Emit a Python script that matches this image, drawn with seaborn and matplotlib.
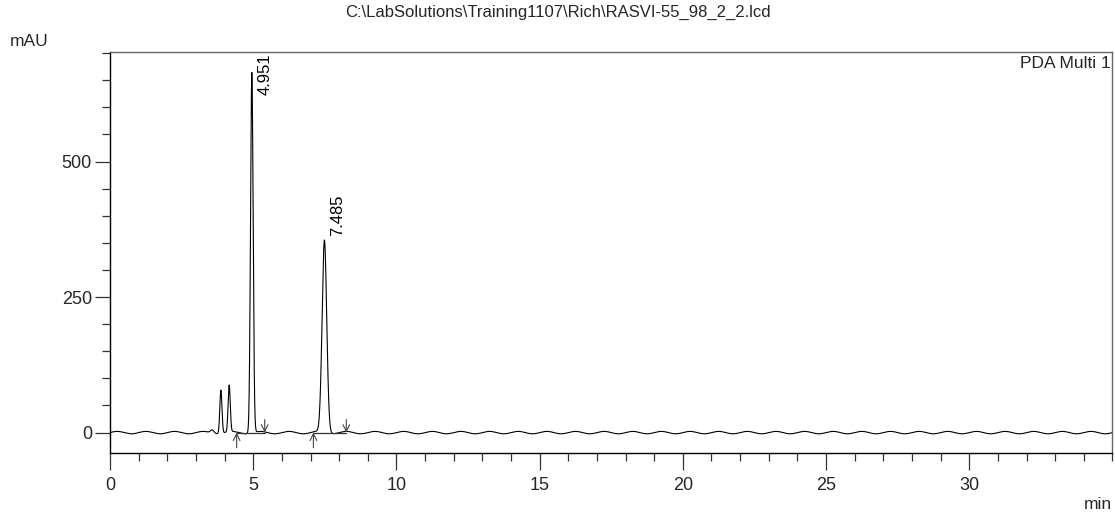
import numpy as np
import pandas as pd
import seaborn as sns
import matplotlib.pyplot as plt
from matplotlib.ticker import MultipleLocator

# Peak table: retention time (min), height (mAU), width sigma (min)
peak_rt = [3.57, 3.87, 4.16, 4.951, 7.485]
peak_height = [6, 80, 86, 665, 355]
peak_sigma = [0.06, 0.037, 0.037, 0.045, 0.08]

# Only integrated peaks are labelled
labelled_rt = [4.951, 7.485]

# Integration start/end markers (min)
int_start = [4.42, 7.10]
int_end = [5.40, 8.25]

# Baseline ripple: period (min) and amplitude (mAU)
ripple_period = 1.0
ripple_amp = 2.2

title = r"C:\LabSolutions\Training1107\Rich\RASVI-55_98_2_2.lcd"
channel = "PDA Multi 1"

t = np.linspace(0, 35, 7001)
signal = ripple_amp * np.sin(2 * np.pi * t / ripple_period)
for rt, h, s in zip(peak_rt, peak_height, peak_sigma):
    signal = signal + h * np.exp(-0.5 * ((t - rt) / s) ** 2)
df = pd.DataFrame({"time": t, "mAU": signal})

sns.set_theme(style="white")
plt.rcParams["font.family"] = ["Liberation Sans", "DejaVu Sans"]

fig = plt.figure(figsize=(11.15, 5.15), dpi=100)
ax = fig.add_axes([0.0987, 0.12, 0.899, 0.779])
sns.lineplot(data=df, x="time", y="mAU", ax=ax, color="black", linewidth=0.8)

ax.set_ylim(-38, 702)
ax.xaxis.set_major_locator(MultipleLocator(5))
ax.xaxis.set_minor_locator(MultipleLocator(1))
ax.yaxis.set_major_locator(MultipleLocator(250))
ax.yaxis.set_minor_locator(MultipleLocator(50))
ax.set_xticks([0, 5, 10, 15, 20, 25, 30])
ax.set_xlim(0, 35)
ax.tick_params(axis="x", which="major", direction="out", length=12, width=0.9,
               labelsize=13, color="#333333", bottom=True, pad=5)
ax.tick_params(axis="y", which="major", direction="out", length=11, width=0.9,
               labelsize=13, color="#333333", left=True, pad=2)
ax.tick_params(axis="both", which="minor", direction="out", length=6, width=0.9,
               color="#333333", bottom=True, left=True)
ax.set_xlabel("")
ax.set_ylabel("")

for side in ["left", "bottom"]:
    ax.spines[side].set_color("black")
    ax.spines[side].set_linewidth(1.0)
for side in ["top", "right"]:
    ax.spines[side].set_color("#666666")
    ax.spines[side].set_linewidth(1.0)

# Baseline segments and integration markers
for a, b in zip(int_start, int_end):
    ax.plot([a, b], [0, 0], color="#333333", linewidth=0.9)
    ax.annotate("", xy=(a, 0), xytext=(a, -28),
                arrowprops=dict(arrowstyle="->", color="#444444", lw=0.8,
                                shrinkA=0, shrinkB=0))
    ax.annotate("", xy=(b, 0), xytext=(b, 24),
                arrowprops=dict(arrowstyle="->", color="#444444", lw=0.8,
                                shrinkA=0, shrinkB=0))

# Retention time labels
y_top = ax.get_ylim()[1]
for rt in labelled_rt:
    h = peak_height[peak_rt.index(rt)]
    y = min(h + 8, y_top - 80)
    ax.text(rt + 0.2, y, f"{rt:.3f}", rotation=90, ha="left", va="bottom",
            fontsize=12, color="black")

ax.text(0.998, 0.99, channel, transform=ax.transAxes, ha="right", va="top",
        fontsize=12.5)
fig.text(0.5, 0.975, title, ha="center", va="center", fontsize=12)
fig.text(0.009, 0.92, "mAU", ha="left", va="center", fontsize=12.5)
fig.text(0.997, 0.02, "min", ha="right", va="center", fontsize=12.5)

fig.savefig("out.png", dpi=100)
